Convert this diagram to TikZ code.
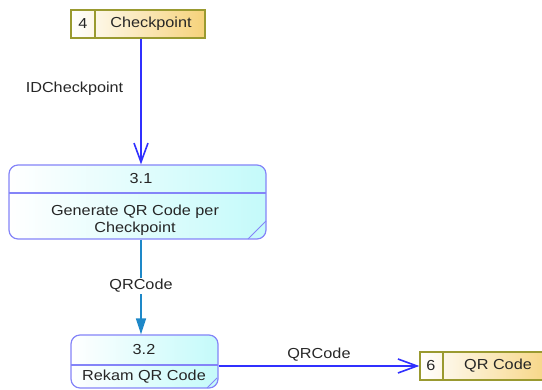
\documentclass[tikz,border=0pt]{standalone}
\usepackage{fontspec}
\setmainfont[FakeStretch=1.12]{Liberation Sans}
\usetikzlibrary{arrows.meta}
\definecolor{storeline}{HTML}{9A9A30}
\definecolor{storefill}{HTML}{F6D27A}
\definecolor{procline}{HTML}{8484F8}
\definecolor{procfill}{HTML}{C4FAFA}
\definecolor{flowblue}{HTML}{3030FF}
\definecolor{flowteal}{HTML}{1E88C8}
\tikzset{
  store/.style={draw=storeline, line width=1.4pt, left color=white, right color=storefill,
    minimum height=28pt, inner sep=0pt},
  proc/.style={draw=procline, line width=1.2pt, rounded corners=9pt, left color=white,
    right color=procfill, inner sep=0pt},
  lbl/.style={font=\fontsize{14.5}{16}\selectfont, inner sep=1pt, text=black!85},
  flow/.style={draw=flowblue, line width=1.5pt, -{Straight Barb[length=19pt,width=14pt,line width=1.6pt]}},
  flowstrong/.style={draw=flowteal, line width=1.6pt, -{Triangle[length=16pt,width=10pt]}},
}
\begin{document}
\begin{tikzpicture}[x=1pt,y=-1pt]
\useasboundingbox (0,0) rectangle (542,390);
\clip (0,0) rectangle (542,390);

% data store 4
\node[store, minimum width=134pt] (d4) at (138,24) {};
\draw[storeline, line width=1.4pt] (95,10) -- (95,38);
\node[lbl] (d4n) at (83,24) {4};
\node[lbl] (d4t) at (151,24) {Checkpoint};

% process 3.1
\node[proc, minimum width=257pt, minimum height=74pt] (p31) at (137.5,202) {};
\draw[procline, line width=1.2pt] (9,193) -- (266,193);
\draw[procline, line width=0.9pt] (248,239) -- (266,221);
\node[lbl] (p31n) at (141,179) {3.1};
\node[lbl, align=center] (p31t) at (135,220) {Generate QR Code per\\[1pt]Checkpoint};

% process 3.2
\node[proc, minimum width=147pt, minimum height=53pt] (p32) at (144.5,361.5) {};
\draw[procline, line width=1.2pt] (71,365) -- (218,365);
\draw[procline, line width=0.9pt] (207,388) -- (217,378);
\node[lbl] (p32n) at (144,350) {3.2};
\node[lbl] (p32t) at (144,377) {Rekam QR Code};

% data store 6
\node[store, minimum width=140pt] (d6) at (490,366) {};
\draw[storeline, line width=1.4pt] (443,352) -- (443,380);
\node[lbl] (d6n) at (431,366) {6};
\node[lbl] (d6t) at (498,366) {QR Code};

% flows
\draw[flow] ([xshift=3pt]d4.south) -- ([xshift=3pt]d4.south |- p31.north)
  node[lbl, pos=0.4, left=16pt] (f1) {IDCheckpoint};
\draw[flowstrong] ([xshift=3.5pt]p31.south) -- ([xshift=3.5pt]p31.south |- p32.north)
  node[lbl, pos=0.49, fill=white] (f2) {QRCode};
\draw[flow] (d6.west -| p32.east) -- (d6.west)
  node[lbl, pos=0.5, above=3pt] (f3) {QRCode};
\end{tikzpicture}
\end{document}
